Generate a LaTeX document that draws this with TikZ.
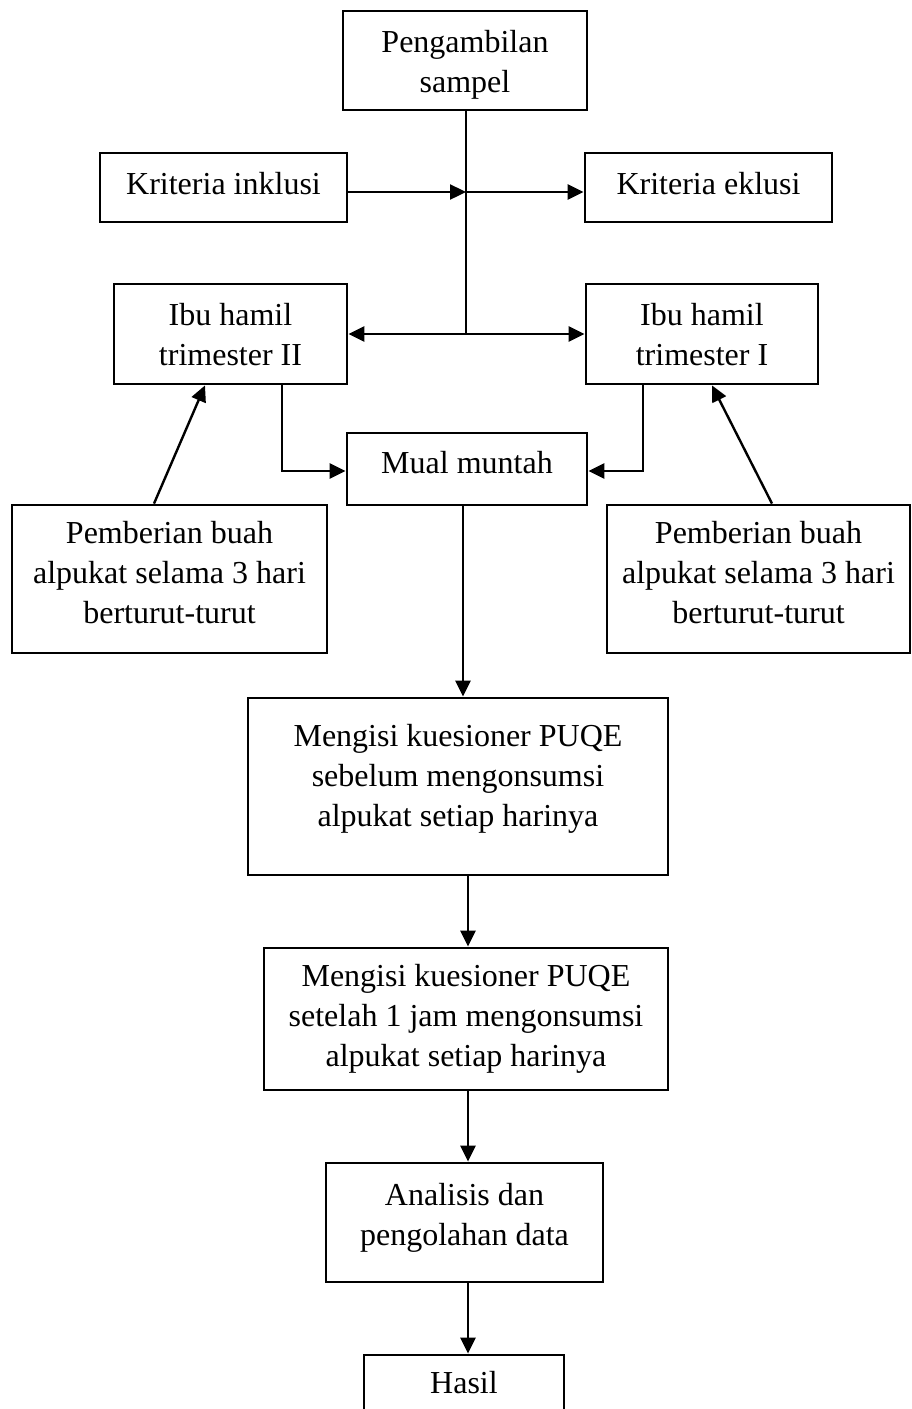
\documentclass[tikz,border=0pt]{standalone}
\usepackage{fontspec}
\setmainfont{Liberation Serif}
\usetikzlibrary{arrows.meta}
\newcommand\tst[1][23pt]{\rule{0pt}{#1}}
\newcommand\bst[1][9pt]{\rule[-#1]{0pt}{#1}}
\begin{document}
\begin{tikzpicture}[x=1pt,y=-1pt,
  box/.style={draw, line width=2.8pt, rectangle, inner sep=0pt, align=center,
              font=\fontsize{32}{40}\selectfont},
  sz/.style 2 args={minimum width=#1, minimum height=#2},
  ln/.style={line width=2.4pt},
  arr/.style={line width=2.4pt, -{Triangle[length=16pt,width=15pt]}},
  darr/.style={line width=2.4pt, {Triangle[length=16pt,width=15pt]}-{Triangle[length=16pt,width=15pt]}}]
\useasboundingbox (0,0) rectangle (912,1409);

\node[box, sz={244pt}{99pt}] (samp) at (465,60.5) {\tst[32pt]Pengambilan\\sampel\bst};
\node[box, sz={247pt}{69pt}] (inkl) at (223.5,187.5) {\tst Kriteria inklusi\bst};
\node[box, sz={247pt}{69pt}] (ekl) at (708.5,187.5) {\tst Kriteria eklusi\bst};
\node[box, sz={233pt}{100pt}] (ibu2) at (230.5,334) {\tst[31pt]Ibu hamil\\trimester II\bst};
\node[box, sz={232pt}{100pt}] (ibu1) at (702,334) {\tst[31pt]Ibu hamil\\trimester I\bst};
\node[box, sz={240pt}{72pt}] (mual) at (467,469) {\tst Mual muntah\bst[15pt]};
\node[box, sz={315pt}{148pt}] (pemL) at (169.5,579) {\tst Pemberian buah\\alpukat selama 3 hari\\berturut-turut\bst[15pt]};
\node[box, sz={303pt}{148pt}] (pemR) at (758.5,579) {\tst Pemberian buah\\alpukat selama 3 hari\\berturut-turut\bst[15pt]};
\node[box, sz={420pt}{177pt}] (m1) at (458,786.5) {\tst Mengisi kuesioner PUQE\\sebelum mengonsumsi\\alpukat setiap harinya\bst[24pt]};
\node[box, sz={404pt}{142pt}] (m2) at (466,1019) {\tst Mengisi kuesioner PUQE\\setelah 1 jam mengonsumsi\\alpukat setiap harinya\bst};
\node[box, sz={277pt}{119pt}] (anl) at (464.5,1222.5) {\tst Analisis dan\\pengolahan data\bst[18pt]};
\node[box, sz={200pt}{62pt}] (hasil) at (464,1386) {\tst Hasil\bst};

% trunk from sampling down to the trimester split
\coordinate (jA) at ([xshift=1pt]samp.south |- ibu2.east);
\coordinate (jT) at ([xshift=1pt]samp.south);
\draw[ln] (jT) -- (jA);
\coordinate (jI) at (jT |- 0,192);
\draw[arr] ([yshift=-4.5pt]inkl.east) -- (jI);
\draw[arr] (jI) -- (jI -| ekl.west);
\draw[darr] (ibu2.east) -- (ibu1.west);

% trimester boxes to nausea box
\draw[arr] ([xshift=51.5pt]ibu2.south) |- ([yshift=-2pt]mual.west);
\draw[arr] ([xshift=-59pt]ibu1.south) |- ([yshift=-2pt]mual.east);

% avocado boxes to trimester boxes
\draw[arr] ([xshift=-15.5pt]pemL.north) -- ([xshift=-25.5pt]ibu2.south);
\draw[arr] ([xshift=13.5pt]pemR.north) -- ([xshift=10pt]ibu1.south);

% main column
\draw[arr] ([xshift=-4pt]mual.south) -- ([xshift=-4pt]mual.south |- m1.north);
\draw[arr] ([xshift=2pt]m2.north |- m1.south) -- ([xshift=2pt]m2.north);
\draw[arr] ([xshift=2pt]m2.south) -- ([xshift=2pt]m2.south |- anl.north);
\draw[arr] ([xshift=3.5pt]anl.south) -- ([xshift=3.5pt]anl.south |- hasil.north);
\end{tikzpicture}
\end{document}
